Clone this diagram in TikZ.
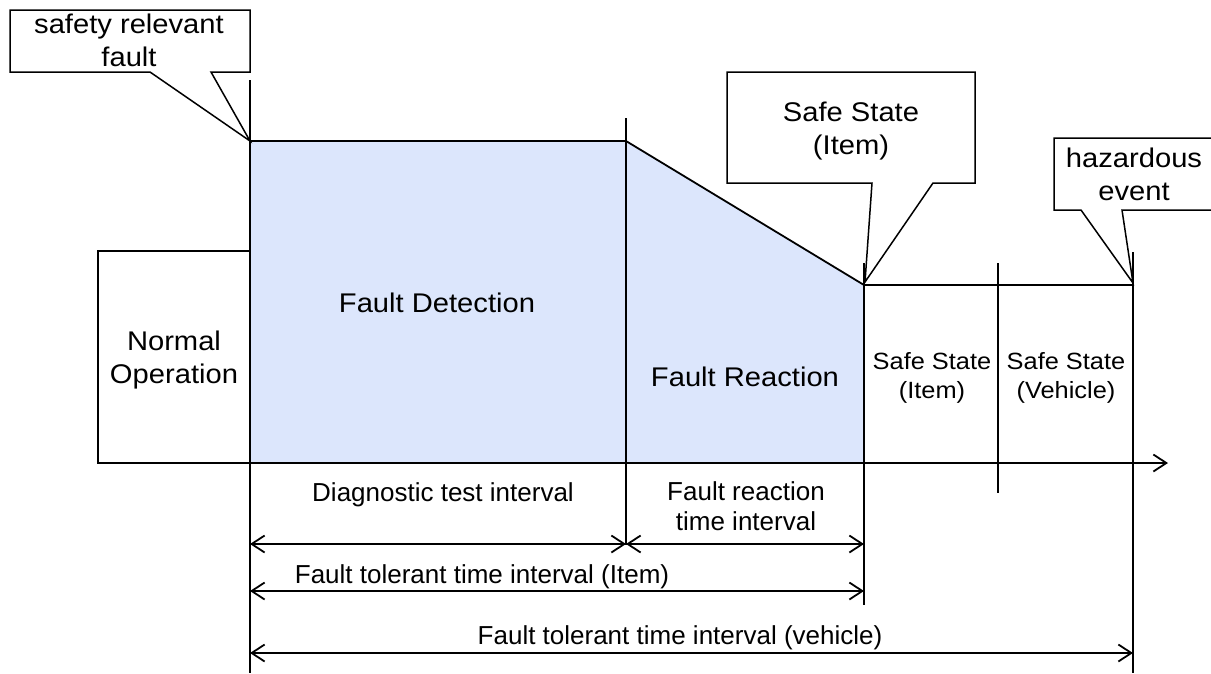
\documentclass[tikz,border=0pt]{standalone}
\usepackage{fontspec}
\setmainfont{Liberation Sans}[FakeStretch=1.08]
\newfontfamily\narrowsans{Liberation Sans}
\usetikzlibrary{arrows.meta}
\definecolor{phasefill}{RGB}{220,230,252}
\begin{document}
\begin{tikzpicture}[x=1pt,y=-1pt,
  >={Straight Barb[length=13pt,width=17pt]},
  line/.style={line width=1.8pt, line join=miter, line cap=butt},
  thin/.style={line width=1.5pt, line join=miter},
  label/.style={font=\fontsize{27}{33}\selectfont, align=center, inner sep=0pt},
  small/.style={font=\fontsize{23.5}{29}\selectfont, align=center, inner sep=0pt},
  interval/.style={font=\narrowsans\fontsize{26}{30}\selectfont, align=center, inner sep=0pt},
  callout/.style={thin, fill=white},
  span/.style={line, <->},
]
\useasboundingbox (0,0) rectangle (1211,673);
\clip (0,0) rectangle (1211,673);

% time marks
\coordinate (fault)  at (250,141);
\coordinate (detend) at (626,141);
\coordinate (safe)   at (864,285);
\coordinate (hazard) at (1133,285);
\coordinate (axis0)  at (98,463);
\coordinate (axis1)  at (1168,463);

% shaded phases: fault detection and fault reaction
\fill[phasefill] (fault) -- (detend) -- (safe) -- (864,463) -- (250,463) -- cycle;

% state profile
\draw[line] (fault) -- (detend) -- (safe) -- (hazard);

% normal operation box
\draw[thin] (98,251) rectangle (250,463);

% vertical time marks
\draw[line] (250,80) -- (250,673);
\draw[line] (626,118) -- (626,545);
\draw[line] (864,263) -- (864,605);
\draw[line] (998,263) -- (998,493);
\draw[line] (1133,252) -- (1133,673);

% time axis
\draw[line,->] (axis0) -- (axis1);

% phase labels
\node[label] (normal) at (174,360) {Normal\\Operation};
\node[label] (detect) at (437,303) {Fault Detection};
\node[label] (react)  at (745,377) {Fault Reaction};
\node[small] (ssitem) at (932,378) {Safe State\\(Item)};
\node[small] (ssveh)  at (1066,378) {Safe State\\(Vehicle)};

% interval arrows
\coordinate (d0) at (250,544); \coordinate (d1) at (626,544); \coordinate (d2) at (864,544);
\coordinate (i0) at (250,591); \coordinate (i1) at (864,591);
\coordinate (v0) at (250,653); \coordinate (v1) at (1133,653);
\draw[span] (d0) -- (d1);
\draw[span] (d1) -- (d2);
\draw[span] (i0) -- (i1);
\draw[span] (v0) -- (v1);

\node[interval] (dti)  at (443,495) {Diagnostic test interval};
\node[interval] (frti) at (746,506) {Fault reaction\\time interval};
\node[interval] (ftii) at (482,577) {Fault tolerant time interval (Item)};
\node[interval] (ftiv) at (680,638) {Fault tolerant time interval (vehicle)};

% callouts
\draw[callout] (150,72) -- (10,72) -- (10,10) -- (250,10) -- (250,72) -- (211,72) -- (fault) -- cycle;
\node[label] (srf) at (129,40) {safety relevant\\fault};

\draw[callout] (872,183) -- (727,183) -- (727,72) -- (975,72) -- (975,183) -- (933,183) -- (865,282) -- cycle;
\node[label] (ssc) at (851,131) {Safe State\\(Item)};

\draw[callout] (1081,210) -- (1054,210) -- (1054,138) -- (1230,138) -- (1230,210) -- (1122,210) -- (1133,283) -- cycle;
\node[label] (haz) at (1134,174) {hazardous\\event};
\end{tikzpicture}
\end{document}
